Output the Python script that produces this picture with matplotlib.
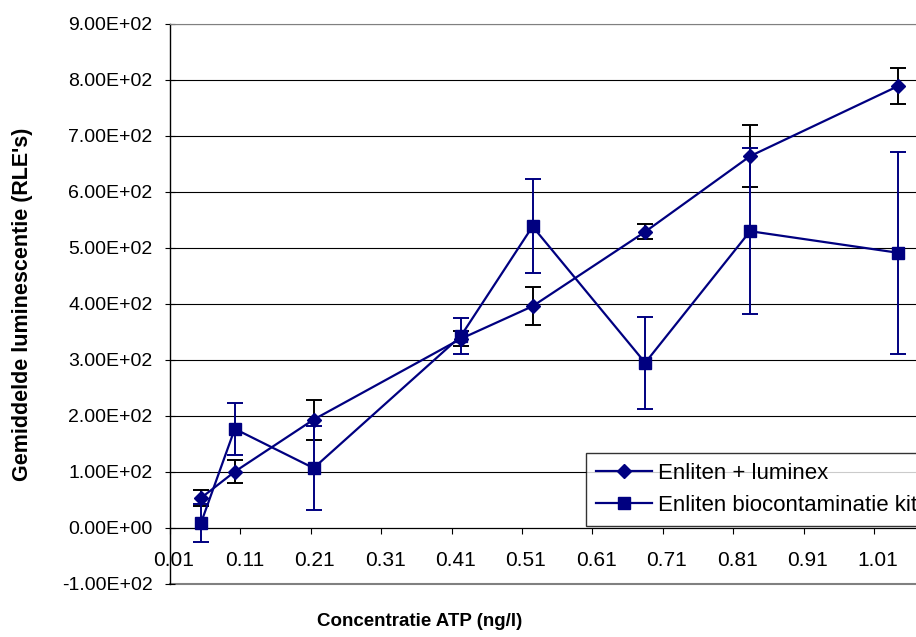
import numpy as np
import matplotlib
matplotlib.use('Agg')
import matplotlib.pyplot as plt
from matplotlib.ticker import FuncFormatter, MultipleLocator
from matplotlib.transforms import ScaledTranslation

plt.rcParams['font.family'] = ['Liberation Sans', 'DejaVu Sans']

# concentratie ATP (ng/l)
conc = [0.054, 0.102, 0.214, 0.423, 0.525, 0.685, 0.834, 1.044]

# Enliten + luminex
lum_mean = [53.6, 100.6, 193.6, 337.8, 396.0, 529.0, 664.0, 789.0]
lum_err = [15.0, 20.6, 35.7, 13.4, 33.6, 13.8, 55.4, 32.2]

# Enliten biocontaminatie kit
kit_mean = [8.9, 177.0, 107.0, 342.5, 538.5, 295.0, 530.0, 491.5]
kit_err = [34.5, 46.0, 74.5, 32.2, 84.0, 82.2, 148.0, 180.0]

W, H = 916, 637
navy = '#000080'

fig = plt.figure(figsize=(W / 100, H / 100), dpi=100)
x0, x1 = 170, 944.4
ax = fig.add_axes([x0 / W, 1 - 584 / H, (x1 - x0) / W, (584 - 24) / H])

ax.set_xlim(0.01, 1.11)
ax.set_ylim(-100, 900)

for v in range(100, 1000, 100):
    ax.axhline(v, color='black', lw=0.8, zorder=1)
ax.axhline(-100, color='#808080', lw=1.5, zorder=1, clip_on=False)

ax.errorbar(conc, lum_mean, yerr=lum_err, fmt='none', ecolor='black',
            elinewidth=1.4, capsize=5.8, capthick=1.4, zorder=3)
ax.plot(conc, lum_mean, color=navy, lw=1.6, marker='D', ms=6.8,
        label='Enliten + luminex', zorder=4)
ax.errorbar(conc, kit_mean, yerr=kit_err, fmt='none', ecolor=navy,
            elinewidth=1.4, capsize=5.8, capthick=1.4, zorder=5)
ax.plot(conc, kit_mean, color=navy, lw=1.6, marker='s', ms=8.6,
        label='Enliten biocontaminatie kit', zorder=6)

ax.spines['right'].set_visible(False)
ax.spines['top'].set_color('#808080')
ax.spines['bottom'].set_position(('data', 0))
ax.spines['bottom'].set_color('black')
ax.spines['bottom'].set_linewidth(0.9)
ax.spines['left'].set_linewidth(1.0)

ax.set_xticks(np.arange(0.01, 1.02, 0.1))
ax.xaxis.set_major_formatter(FuncFormatter(lambda v, p: f'{v:.2f}'))
ax.yaxis.set_major_locator(MultipleLocator(100))
ax.yaxis.set_major_formatter(FuncFormatter(lambda v, p: f'{v:.2E}'))

ax.tick_params(axis='x', direction='out', length=4.5, width=0.8, pad=12,
               labelsize=15)
ax.tick_params(axis='y', direction='inout', length=7, width=0.8, pad=9,
               labelsize=14)
off = ScaledTranslation(4 / 100, 0, fig.dpi_scale_trans)
for lbl in ax.get_xticklabels():
    lbl.set_transform(lbl.get_transform() + off)

fig.text(420 / W, 1 - 622 / H, 'Concentratie ATP (ng/l)', ha='center',
         va='center', fontsize=13.5, fontweight='bold')
fig.text(23 / W, 1 - 304 / H, "Gemiddelde luminescentie (RLE's)",
         ha='center', va='center', rotation=90, fontsize=15.5,
         fontweight='bold')

leg = ax.legend(loc='lower left', bbox_to_anchor=(586 / W, 1 - 526 / H),
                bbox_transform=fig.transFigure, borderaxespad=0,
                fontsize=16, frameon=True, fancybox=False,
                handlelength=2.5, handletextpad=0.3, borderpad=0.45,
                labelspacing=0.5)
leg.get_frame().set_edgecolor('black')
leg.get_frame().set_linewidth(1.0)
leg.set_zorder(10)

fig.savefig('out.png', dpi=100)
